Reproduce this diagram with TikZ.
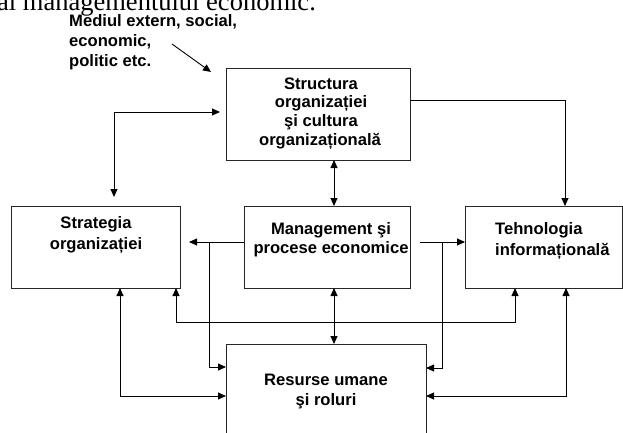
\documentclass[tikz,border=0pt]{standalone}
\usepackage{fontspec}
\setmainfont{Liberation Sans}
\newfontfamily\seriffam{Liberation Serif}
\usetikzlibrary{arrows.meta}
\begin{document}
\begin{tikzpicture}[x=1pt,y=-1pt,
  >={Triangle[length=8pt,width=7pt]},
  box/.style={draw=black!85,line width=0.9pt,inner sep=0pt,outer sep=0pt},
  lbl/.style={font=\bfseries\fontsize{16.6}{19}\selectfont,inner sep=0pt,anchor=base},
  lblw/.style={lbl,anchor=base west},
  conn/.style={line width=0.9pt,black}]
\clip (0,0) rectangle (623,432);
% cropped heading line
\node[font=\seriffam\fontsize{26.5}{30}\selectfont,inner sep=0pt,anchor=base west] (head) at (-3,10) {al managementului economic.};
% boxes
\node[box,minimum width=184pt,minimum height=92pt] (struct) at (318,114) {};
\node[box,minimum width=169pt,minimum height=82pt] (strat) at (95.5,247) {};
\node[box,minimum width=166pt,minimum height=82pt] (mgmt) at (327,247) {};
\node[box,minimum width=157.5pt,minimum height=82pt] (tech) at (543.75,247) {};
\node[box,minimum width=200pt,minimum height=110pt] (res) at (326,399) {};
% texts
\node[lblw] (m1) at (69,26.7) {Mediul extern, social,};
\node[lblw] (m2) at (69,46.7) {economic,};
\node[lblw] (m3) at (69,66.7) {politic etc.};
\node[lbl] (s1) at (321,89) {Structura};
\node[lbl] (s2) at (321,107.5) {organizației};
\node[lbl] (s3) at (321,126) {şi cultura};
\node[lbl] (s4) at (320,145) {organizațională};
\node[lbl] (t1) at (96,228) {Strategia};
\node[lbl] (t2) at (96,249) {organizației};
\node[lbl] (g1) at (331,234) {Management şi};
\node[lbl] (g2) at (331,253) {procese economice};
\node[lblw] (h1) at (495,234) {Tehnologia};
\node[lblw] (h2) at (495,255) {informațională};
\node[lbl] (r1) at (326,385) {Resurse umane};
\node[lbl] (r2) at (326,405) {şi roluri};
% external influence arrow
\coordinate (e1) at (172,44);
\coordinate (e2) at (211,72);
\draw[conn,->] (e1) -- (e2);
% strategy <-> structure
\draw[conn,<->,shorten <=9pt,shorten >=6pt] (strat.north -| 114,0) |- (struct.west |- 0,112);
% structure -> technology
\draw[conn,->] (struct.east |- 0,100) -| (tech.north -| 565,0);
% structure <-> management <-> resources
\draw[conn,<->] (struct.south -| 334,0) -- (mgmt.north -| 334,0);
\draw[conn,<->] (mgmt.south -| 334,0) -- (res.north -| 334,0);
% management -> strategy, branch to resources
\coordinate (bl) at (209,242);
\draw[conn,->,shorten >=9pt] (mgmt.west |- bl) -- (strat.east |- bl);
\draw[conn,->] (bl) |- (res.west |- 0,367);
% management -> technology, branch to resources
\coordinate (br) at (442,242);
\draw[conn,->,shorten <=10pt] (mgmt.east |- br) -- (tech.west |- br);
\draw[conn,->] (br) |- (res.east |- 0,368);
% strategy <-> technology
\draw[conn,<->] (strat.south -| 176,0) |- (515,322) -- (tech.south -| 515,0);
% strategy <-> resources, technology <-> resources
\draw[conn,<->] (strat.south -| 120,0) |- (res.west |- 0,396);
\draw[conn,<->] (tech.south -| 566,0) |- (res.east |- 0,396);
\end{tikzpicture}
\end{document}
